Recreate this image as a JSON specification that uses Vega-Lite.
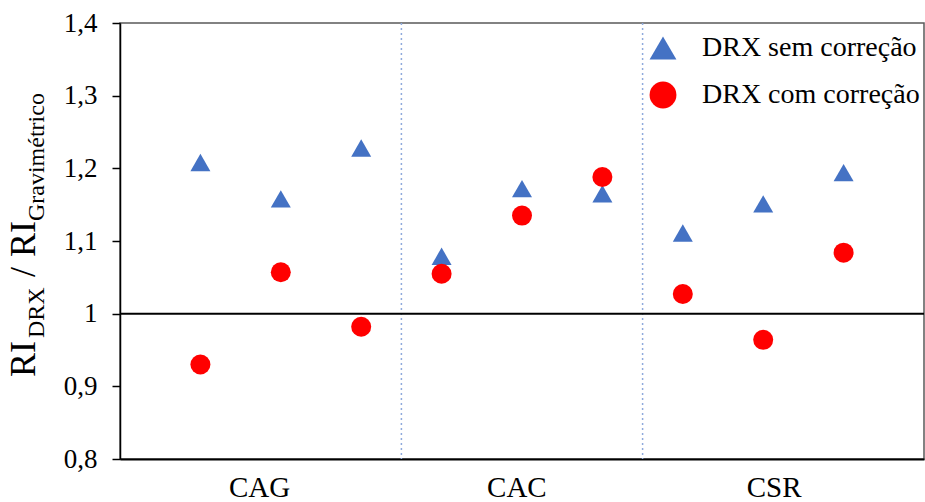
{
  "$schema": "https://vega.github.io/schema/vega-lite/v6.json",
  "width": 804,
  "height": 436,
  "autosize": "none",
  "padding": {"left": 120, "top": 23, "right": 1, "bottom": 43},
  "background": "white",
  "config": {
    "font": "Liberation Serif",
    "view": {"stroke": "#595959", "strokeWidth": 1.5}
  },
  "layer": [
    {
      "data": {"values": [
        {"grupo": "CAG", "pos": 1, "serie": "DRX sem correção", "valor": 1.208},
        {"grupo": "CAG", "pos": 2, "serie": "DRX sem correção", "valor": 1.158},
        {"grupo": "CAG", "pos": 3, "serie": "DRX sem correção", "valor": 1.228},
        {"grupo": "CAC", "pos": 4, "serie": "DRX sem correção", "valor": 1.079},
        {"grupo": "CAC", "pos": 5, "serie": "DRX sem correção", "valor": 1.172},
        {"grupo": "CAC", "pos": 6, "serie": "DRX sem correção", "valor": 1.165},
        {"grupo": "CSR", "pos": 7, "serie": "DRX sem correção", "valor": 1.111},
        {"grupo": "CSR", "pos": 8, "serie": "DRX sem correção", "valor": 1.151},
        {"grupo": "CSR", "pos": 9, "serie": "DRX sem correção", "valor": 1.194},
        {"grupo": "CAG", "pos": 1, "serie": "DRX com correção", "valor": 0.930},
        {"grupo": "CAG", "pos": 2, "serie": "DRX com correção", "valor": 1.057},
        {"grupo": "CAG", "pos": 3, "serie": "DRX com correção", "valor": 0.982},
        {"grupo": "CAC", "pos": 4, "serie": "DRX com correção", "valor": 1.055},
        {"grupo": "CAC", "pos": 5, "serie": "DRX com correção", "valor": 1.135},
        {"grupo": "CAC", "pos": 6, "serie": "DRX com correção", "valor": 1.188},
        {"grupo": "CSR", "pos": 7, "serie": "DRX com correção", "valor": 1.027},
        {"grupo": "CSR", "pos": 8, "serie": "DRX com correção", "valor": 0.964},
        {"grupo": "CSR", "pos": 9, "serie": "DRX com correção", "valor": 1.084}
      ]},
      "mark": {"type": "point", "filled": true, "size": 400, "opacity": 1},
      "encoding": {
        "x": {
          "field": "pos", "type": "quantitative",
          "scale": {"domain": [0, 10], "nice": false, "zero": false},
          "title": null,
          "axis": {
            "values": [1.73, 4.93, 8.13],
            "labelExpr": "datum.value < 3 ? 'CAG' : (datum.value < 6 ? 'CAC' : 'CSR')",
            "ticks": false,
            "grid": false,
            "labelPadding": 14,
            "labelFontSize": 29,
            "labelFont": "Liberation Serif",
            "labelColor": "#000",
            "labelFlush": false,
            "labelOverlap": false,
            "domainColor": "#000",
            "domainWidth": 2
          }
        },
        "y": {
          "field": "valor", "type": "quantitative",
          "scale": {"domain": [0.8, 1.4], "nice": false, "zero": false},
          "title": null,
          "axis": {
            "values": [0.8, 0.9, 1.0, 1.1, 1.2, 1.3, 1.4],
            "labelExpr": "abs(datum.value - 1) < 1e-9 ? '1' : replace(format(datum.value, '.1f'), '.', ',')",
            "grid": false,
            "tickSize": 8,
            "tickColor": "#000",
            "tickWidth": 1.5,
            "domainColor": "#000",
            "domainWidth": 1.5,
            "labelPadding": 15,
            "labelFontSize": 27,
            "labelFont": "Liberation Serif",
            "labelColor": "#000"
          }
        },
        "color": {
          "field": "serie", "type": "nominal",
          "scale": {"domain": ["DRX sem correção", "DRX com correção"], "range": ["#4472C4", "#FF0000"]},
          "legend": {
            "orient": "none", "legendX": 529, "legendY": 11,
            "title": null, "direction": "vertical",
            "labelFontSize": 28, "labelFont": "Liberation Serif", "labelColor": "#000", "labelLimit": 0,
            "symbolSize": 720, "labelOffset": 25, "rowPadding": 19, "padding": 0,
            "symbolStrokeWidth": 0
          }
        },
        "shape": {
          "field": "serie", "type": "nominal",
          "scale": {"domain": ["DRX sem correção", "DRX com correção"], "range": ["triangle-up", "circle"]},
          "legend": {
            "orient": "none", "legendX": 529, "legendY": 11,
            "title": null, "direction": "vertical",
            "labelFontSize": 28, "labelFont": "Liberation Serif", "labelColor": "#000", "labelLimit": 0,
            "symbolSize": 720, "labelOffset": 25, "rowPadding": 19, "padding": 0,
            "symbolStrokeWidth": 0
          }
        }
      }
    },
    {
      "data": {"values": [{"sep": 3.5}, {"sep": 6.5}]},
      "mark": {"type": "rule", "color": "#8FAADC", "strokeDash": [2, 3], "strokeWidth": 1.5},
      "encoding": {
        "x": {"field": "sep", "type": "quantitative", "scale": {"domain": [0, 10], "nice": false, "zero": false}, "title": null}
      }
    },
    {
      "data": {"values": [{"ref": 1}]},
      "mark": {"type": "rule", "color": "#000", "strokeWidth": 2},
      "encoding": {
        "y": {"field": "ref", "type": "quantitative", "scale": {"domain": [0.8, 1.4], "nice": false, "zero": false}, "title": null}
      }
    },
    {
      "data": {"values": [{}]},
      "mark": {"type": "text", "text": "RI", "angle": 270, "align": "left", "baseline": "alphabetic", "fontSize": 36, "font": "Liberation Serif", "color": "#000", "dx": 0, "dy": 0},
      "encoding": {
        "x": {"datum": -1.057, "type": "quantitative", "scale": {"domain": [0, 10], "nice": false, "zero": false}},
        "y": {"datum": 0.9128, "type": "quantitative", "scale": {"domain": [0.8, 1.4], "nice": false, "zero": false}}
      }
    },
    {
      "data": {"values": [{}]},
      "mark": {"type": "text", "text": "DRX", "angle": 270, "align": "left", "baseline": "alphabetic", "fontSize": 24, "font": "Liberation Serif", "color": "#000", "dx": 39, "dy": 9},
      "encoding": {
        "x": {"datum": -1.057, "type": "quantitative", "scale": {"domain": [0, 10], "nice": false, "zero": false}},
        "y": {"datum": 0.9128, "type": "quantitative", "scale": {"domain": [0.8, 1.4], "nice": false, "zero": false}}
      }
    },
    {
      "data": {"values": [{}]},
      "mark": {"type": "text", "text": "/", "angle": 270, "align": "left", "baseline": "alphabetic", "fontSize": 36, "font": "Liberation Serif", "color": "#000", "dx": 100, "dy": 0},
      "encoding": {
        "x": {"datum": -1.057, "type": "quantitative", "scale": {"domain": [0, 10], "nice": false, "zero": false}},
        "y": {"datum": 0.9128, "type": "quantitative", "scale": {"domain": [0.8, 1.4], "nice": false, "zero": false}}
      }
    },
    {
      "data": {"values": [{}]},
      "mark": {"type": "text", "text": "RI", "angle": 270, "align": "left", "baseline": "alphabetic", "fontSize": 36, "font": "Liberation Serif", "color": "#000", "dx": 120, "dy": 0},
      "encoding": {
        "x": {"datum": -1.057, "type": "quantitative", "scale": {"domain": [0, 10], "nice": false, "zero": false}},
        "y": {"datum": 0.9128, "type": "quantitative", "scale": {"domain": [0.8, 1.4], "nice": false, "zero": false}}
      }
    },
    {
      "data": {"values": [{}]},
      "mark": {"type": "text", "text": "Gravimétrico", "angle": 270, "align": "left", "baseline": "alphabetic", "fontSize": 24, "font": "Liberation Serif", "color": "#000", "dx": 156, "dy": 9},
      "encoding": {
        "x": {"datum": -1.057, "type": "quantitative", "scale": {"domain": [0, 10], "nice": false, "zero": false}},
        "y": {"datum": 0.9128, "type": "quantitative", "scale": {"domain": [0.8, 1.4], "nice": false, "zero": false}}
      }
    }
  ]
}
